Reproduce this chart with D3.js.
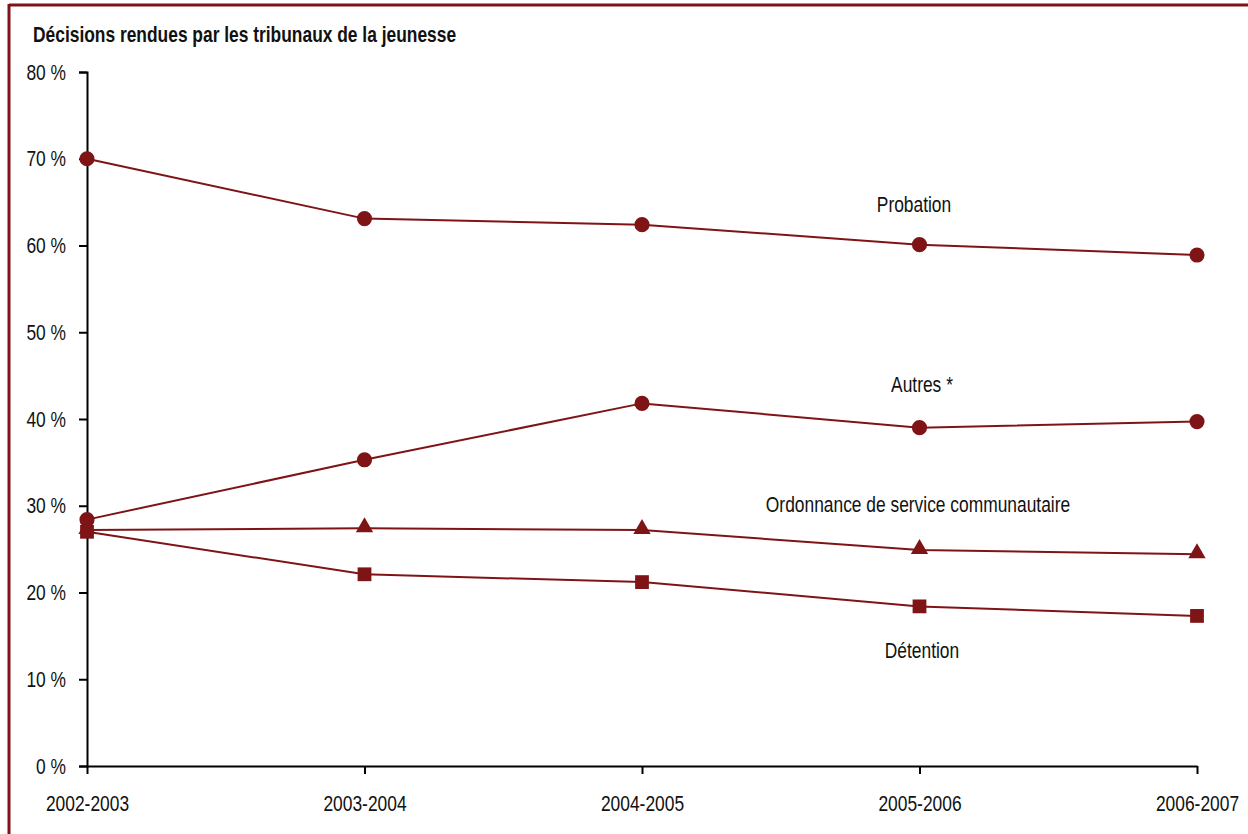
<!DOCTYPE html>
<html>
<head>
<meta charset="utf-8">
<script src="https://cdn.jsdelivr.net/npm/d3@7"></script>
<style>
  body { margin: 0; background: #fff; }
  svg { display: block; }
  text { font-family: "Liberation Sans", Arial, sans-serif; fill: #111; }
</style>
</head>
<body>
<svg id="chart" width="1248" height="834"></svg>
<script>
// years on the x axis
const years = ['2002-2003', '2003-2004', '2004-2005', '2005-2006', '2006-2007'];

// percent values
const probation = [70.0, 63.1, 62.4, 60.1, 58.9];
const autres = [28.4, 35.3, 41.8, 39.0, 39.7];
const ordonnance = [27.2, 27.4, 27.2, 24.9, 24.4];
const detention = [27.0, 22.1, 21.2, 18.4, 17.3];

const yTicks = [0, 10, 20, 30, 40, 50, 60, 70, 80];

const series = [
    { name: 'Probation', values: probation, marker: 'circle', label: [914, 212] },
    { name: 'Autres *', values: autres, marker: 'circle', label: [922, 392] },
    { name: 'Ordonnance de service communautaire', values: ordonnance, marker: 'triangle', label: [918, 512] },
    { name: 'Détention', values: detention, marker: 'square', label: [922, 658] }
];

const red = '#7f1417';
const narrow = 0.79; // the original uses a condensed face
const svg = d3.select('#chart');

// frame
svg.append('line')
    .attr('x1', 9).attr('x2', 1248).attr('y1', 5).attr('y2', 5)
    .attr('stroke', red).attr('stroke-width', 3);
svg.append('line')
    .attr('x1', 9).attr('x2', 9).attr('y1', 4).attr('y2', 834)
    .attr('stroke', red).attr('stroke-width', 3);

svg.append('text')
    .attr('x', 33).attr('y', 42)
    .style('font-size', '22px')
    .style('font-weight', 'bold')
    .text('Décisions rendues par les tribunaux de la jeunesse');

const x = d3.scalePoint()
    .domain(years)
    .range([87, 1197]);

const y = d3.scaleLinear()
    .domain([0, 80])
    .range([766, 72]);

const yAxis = svg.append('g')
    .attr('transform', 'translate(87,0)')
    .call(d3.axisLeft(y).tickValues(yTicks).tickSize(8).tickPadding(13).tickFormat(d => d + ' %'));

const xAxis = svg.append('g')
    .attr('transform', 'translate(0,766)')
    .call(d3.axisBottom(x).tickSize(8).tickSizeOuter(0).tickPadding(21));

[yAxis, xAxis].forEach(a => {
    a.select('.domain').attr('stroke', '#000').attr('stroke-width', 2);
    a.selectAll('.tick line').attr('stroke', '#000').attr('stroke-width', 2);
    a.selectAll('.tick text').style('font-size', '22px').attr('fill', '#111')
        .style('font-family', '"Liberation Sans", Arial, sans-serif');
});

const line = d3.line()
    .x((d, i) => x(years[i]))
    .y(d => y(d));

const sym = {
    circle: d3.symbol().type(d3.symbolCircle).size(180),
    triangle: d3.symbol().type(d3.symbolTriangle).size(130),
    square: d3.symbol().type(d3.symbolSquare).size(190)
};

series.forEach(s => {
    svg.append('path')
        .attr('d', line(s.values))
        .attr('fill', 'none')
        .attr('stroke', red)
        .attr('stroke-width', 2);

    svg.selectAll(null)
        .data(s.values)
        .enter()
        .append('path')
        .attr('d', sym[s.marker])
        .attr('transform', (d, i) => `translate(${x(years[i])},${y(d) + (s.marker === 'triangle' ? -1 : 0)})`)
        .attr('fill', red);

    svg.append('text')
        .attr('x', s.label[0]).attr('y', s.label[1])
        .attr('text-anchor', 'middle')
        .style('font-size', '22px')
        .text(s.name);
});

// squeeze all text horizontally to look like the narrow font
svg.selectAll('text').each(function () {
    const len = this.getComputedTextLength();
    d3.select(this)
        .attr('textLength', len * narrow)
        .attr('lengthAdjust', 'spacingAndGlyphs');
});
</script>
</body>
</html>
